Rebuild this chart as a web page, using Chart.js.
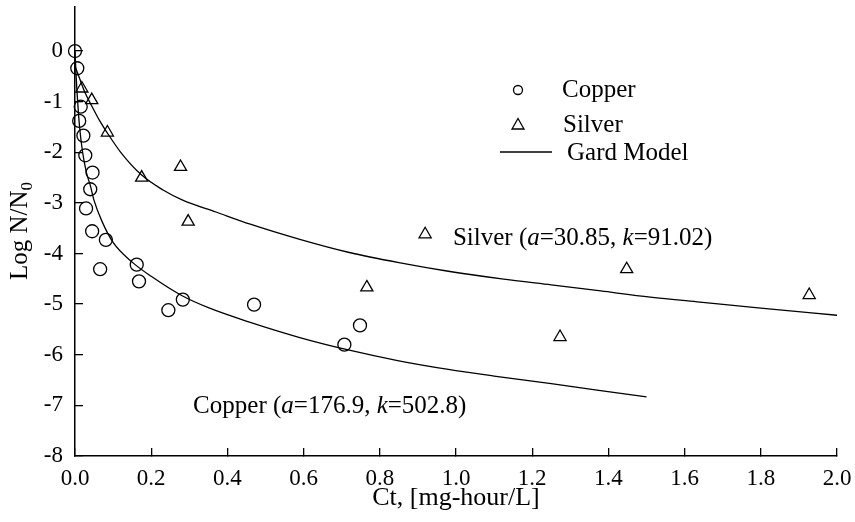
<!DOCTYPE html>
<html>
<head>
<meta charset="utf-8">
<script src="https://cdn.jsdelivr.net/npm/chart.js@4.4.1/dist/chart.umd.min.js"></script>
<style>
  html, body { margin: 0; padding: 0; background: #fff; }
  canvas { display: block; }
</style>
</head>
<body>
<canvas id="chart" width="855" height="522"></canvas>
<script>
// measured points (Ct in mg-hour/L, log N/N0)
const copperCt   = [0, 0.006, 0.015, 0.011, 0.022, 0.027, 0.046, 0.040, 0.029, 0.045, 0.081, 0.066, 0.162, 0.168, 0.245, 0.283, 0.470, 0.748, 0.707];
const copperLogN = [0, -0.34, -1.10, -1.38, -1.67, -2.06, -2.40, -2.73, -3.11, -3.56, -3.73, -4.31, -4.22, -4.55, -5.12, -4.91, -5.01, -5.42, -5.80];

const silverCt   = [0.018, 0.044, 0.085, 0.277, 0.175, 0.297, 0.919, 0.766, 1.448, 1.273, 1.927];
const silverLogN = [-0.74, -0.97, -1.61, -2.29, -2.50, -3.37, -3.62, -4.67, -4.31, -5.65, -4.82];

// Gard model lines
const copperModelCt   = [0, 0.003, 0.007, 0.012, 0.02, 0.03, 0.04, 0.05, 0.07, 0.1, 0.15, 0.2, 0.28, 0.35, 0.46, 0.59, 0.72, 0.85, 0.98, 1.1, 1.25, 1.37, 1.5];
const copperModelLogN = [0, -0.5, -1.0, -1.5, -2.0, -2.4, -2.65, -2.95, -3.35, -3.78, -4.17, -4.45, -4.83, -5.07, -5.36, -5.66, -5.91, -6.12, -6.29, -6.42, -6.57, -6.7, -6.83];

const silverModelCt   = [0, 0.01, 0.025, 0.045, 0.065, 0.085, 0.12, 0.175, 0.23, 0.284, 0.37, 0.46, 0.59, 0.72, 0.85, 0.98, 1.12, 1.25, 1.38, 1.51, 1.64, 1.8, 2.0];
const silverModelLogN = [-0.3, -0.5, -0.8, -1.1, -1.38, -1.62, -2.0, -2.45, -2.74, -2.95, -3.18, -3.42, -3.72, -3.98, -4.18, -4.35, -4.5, -4.62, -4.74, -4.86, -4.96, -5.08, -5.22];

const xTicks = [0, 0.2, 0.4, 0.6, 0.8, 1.0, 1.2, 1.4, 1.6, 1.8, 2.0];
const yTicks = [-8, -7, -6, -5, -4, -3, -2, -1, 0];

const FONT = "'Liberation Serif', 'Times New Roman', serif";

const toPoints = (xs, ys) => xs.map((x, i) => ({ x: x, y: ys[i] }));

// keep the plot box fixed: no extra room for overhanging tick labels
const noLabelPadding = axis => {
    axis.paddingTop = 0;
    axis.paddingBottom = 0;
    axis.paddingLeft = 0;
    axis.paddingRight = 0;
};

// text drawn on the plot: legend, fit labels and the y title with its subscript
const overlayPlugin = {
    id: 'overlay',
    afterDraw(chart) {
        const ctx = chart.ctx;
        const xs = chart.scales.x, ys = chart.scales.y;
        ctx.save();
        ctx.fillStyle = '#000';
        ctx.strokeStyle = '#000';
        ctx.textBaseline = 'middle';

        // legend
        ctx.lineWidth = 1.3;
        ctx.beginPath();
        ctx.arc(518, 90, 4.5, 0, Math.PI * 2);
        ctx.stroke();
        ctx.beginPath();
        ctx.moveTo(518, 118.5);
        ctx.lineTo(524, 129);
        ctx.lineTo(512, 129);
        ctx.closePath();
        ctx.stroke();
        ctx.beginPath();
        ctx.moveTo(500, 152);
        ctx.lineTo(552, 152);
        ctx.stroke();
        ctx.font = '25px ' + FONT;
        ctx.fillText('Copper', 562, 90);
        ctx.fillText('Silver', 563, 125);
        ctx.fillText('Gard Model', 567, 153);

        // fit parameter labels
        const labels = [
            { x: 0.992, y: -3.70, parts: [['Silver (', ''], ['a', 'italic '], ['=30.85, ', ''], ['k', 'italic '], ['=91.02)', '']] },
            { x: 0.31, y: -7.02, parts: [['Copper (', ''], ['a', 'italic '], ['=176.9, ', ''], ['k', 'italic '], ['=502.8)', '']] }
        ];
        labels.forEach(lab => {
            let px = xs.getPixelForValue(lab.x);
            const py = ys.getPixelForValue(lab.y);
            lab.parts.forEach(([txt, style]) => {
                ctx.font = style + '25px ' + FONT;
                ctx.fillText(txt, px, py);
                px += ctx.measureText(txt).width;
            });
        });

        // y axis title
        ctx.translate(27, 231);
        ctx.rotate(-Math.PI / 2);
        ctx.textBaseline = 'alphabetic';
        const main = 'Log N/N';
        ctx.font = '17px ' + FONT;
        const subW = ctx.measureText('0').width;
        ctx.font = '25px ' + FONT;
        const mainW = ctx.measureText(main).width;
        const start = -(mainW + subW) / 2;
        ctx.fillText(main, start, 0);
        ctx.font = '17px ' + FONT;
        ctx.fillText('0', start + mainW, 5);
        ctx.restore();
    }
};

const pointStyleBase = {
    showLine: false,
    pointBackgroundColor: 'rgba(0,0,0,0)',
    pointBorderColor: '#000',
    pointBorderWidth: 1.3,
    clip: false
};

new Chart(document.getElementById('chart'), {
    type: 'scatter',
    data: {
        datasets: [
            {
                label: 'Copper model',
                data: toPoints(copperModelCt, copperModelLogN),
                showLine: true,
                borderColor: '#000',
                borderWidth: 1.3,
                pointRadius: 0,
                cubicInterpolationMode: 'monotone'
            },
            {
                label: 'Silver model',
                data: toPoints(silverModelCt, silverModelLogN),
                showLine: true,
                borderColor: '#000',
                borderWidth: 1.3,
                pointRadius: 0,
                cubicInterpolationMode: 'monotone'
            },
            Object.assign({
                label: 'Copper',
                data: toPoints(copperCt, copperLogN),
                pointStyle: 'circle',
                pointRadius: 6.5
            }, pointStyleBase),
            Object.assign({
                label: 'Silver',
                data: toPoints(silverCt, silverLogN),
                pointStyle: 'triangle',
                pointRadius: 7
            }, pointStyleBase)
        ]
    },
    options: {
        responsive: false,
        animation: false,
        devicePixelRatio: 1,
        layout: { autoPadding: false, padding: { top: 7, right: 18, left: 0, bottom: 0 } },
        plugins: {
            legend: { display: false },
            tooltip: { enabled: false }
        },
        scales: {
            x: {
                type: 'linear',
                min: 0,
                max: 2,
                afterBuildTicks: axis => { axis.ticks = xTicks.map(v => ({ value: v })); },
                afterFit: axis => { axis.height = 66; noLabelPadding(axis); },
                ticks: {
                    callback: v => v.toFixed(1),
                    font: { family: FONT, size: 23 },
                    color: '#000',
                    padding: 17,
                    maxRotation: 0,
                    autoSkip: false
                },
                grid: { drawOnChartArea: false, drawTicks: true, tickLength: -8, color: '#000', lineWidth: 1.3 },
                border: { display: true, color: '#000', width: 1.5 },
                title: {
                    display: true,
                    text: 'Ct, [mg-hour/L]',
                    font: { family: FONT, size: 26 },
                    color: '#000',
                    padding: { top: 0, bottom: 8 }
                }
            },
            y: {
                type: 'linear',
                min: -8,
                max: 0.87,
                afterBuildTicks: axis => { axis.ticks = yTicks.map(v => ({ value: v })); },
                afterFit: axis => { axis.width = 75; noLabelPadding(axis); },
                ticks: {
                    callback: v => String(v),
                    font: { family: FONT, size: 23 },
                    color: '#000',
                    padding: 20,
                    autoSkip: false
                },
                grid: { drawOnChartArea: false, drawTicks: true, tickLength: -8, color: '#000', lineWidth: 1.3 },
                border: { display: true, color: '#000', width: 1.5 },
                title: { display: false }
            }
        }
    },
    plugins: [overlayPlugin]
});
</script>
</body>
</html>
